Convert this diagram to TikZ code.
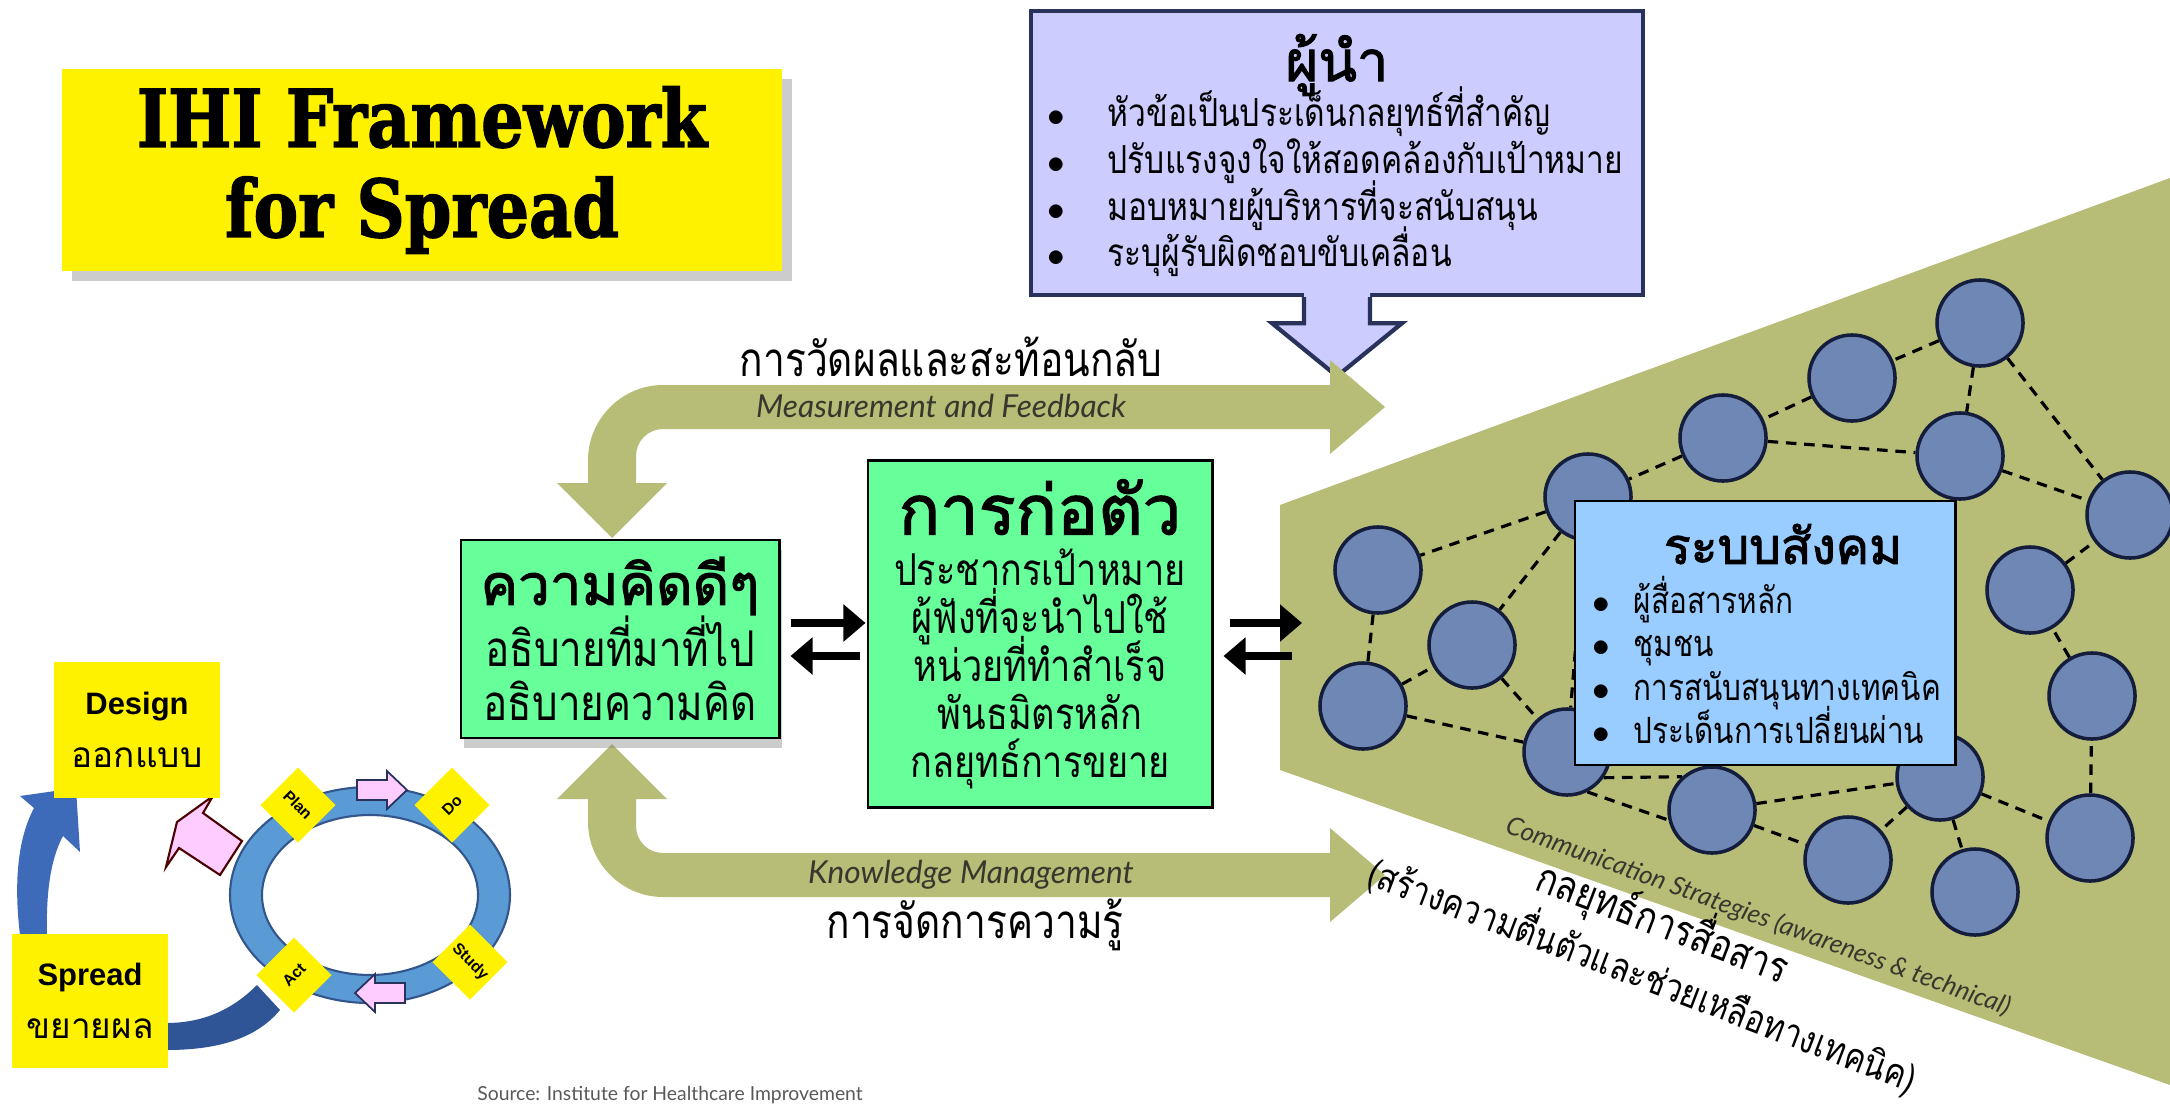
\documentclass[tikz,border=0pt]{standalone}
\usepackage{fontspec}
\usetikzlibrary{positioning,calc,backgrounds,shadows,arrows.meta}

\newfontfamily\thai[Script=Thai,AutoFakeBold=2]{Loma}
\newfontfamily\thain[Script=Thai,FakeStretch=0.82,AutoFakeBold=2]{Loma}
\newfontfamily\slab[FakeBold=2]{DejaVu Serif}
\newfontfamily\arial{Liberation Sans}
\newfontfamily\gill{Lato}
% keep baselines fixed even where Thai marks stick out
\newcommand\fixedlines{\lineskiplimit=-20pt\lineskip=0pt}

\definecolor{olivebg}{RGB}{183,188,118}
\definecolor{netblue}{RGB}{110,135,180}
\definecolor{netline}{RGB}{20,30,60}
\definecolor{skybox}{RGB}{153,204,255}
\definecolor{mint}{RGB}{102,255,153}
\definecolor{lavender}{RGB}{204,204,255}
\definecolor{navy}{RGB}{40,50,90}
\definecolor{pinkarrow}{RGB}{255,204,255}
\definecolor{ringblue}{RGB}{91,155,213}
\definecolor{ringedge}{RGB}{50,85,140}
\definecolor{arcblue}{RGB}{62,106,186}
\definecolor{arcdark}{RGB}{47,85,151}
\definecolor{txtgrey}{RGB}{55,55,45}

\begin{document}
\begin{tikzpicture}[x=0.01cm,y=-0.01cm]
      \tikzstyle{net node}=[circle,draw=netline,line width=1pt,fill=netblue,minimum size=0.86cm,inner sep=0]
      \tikzstyle{net edge}=[line width=0.9pt,dash pattern=on 3pt off 2.2pt]
      \tikzstyle{green box}=[draw,line width=0.8pt,fill=mint,inner sep=0,align=center]
      \tikzstyle{twoway}=[line width=2.3pt,-{Triangle[length=0.22cm,width=0.36cm]}]
      \tikzstyle{pdsa step}=[fill=yellow,minimum size=0.53cm,inner sep=0,font=\arial\bfseries\fontsize{4.5}{5}\selectfont]
      \tikzstyle{band text}=[font=\gill\itshape\fontsize{9}{10}\selectfont,text=txtgrey]
      \tikzstyle{thai label}=[font=\thain\fontsize{13.5}{16}\selectfont]
      \tikzstyle{lead item}=[anchor=base west,inner sep=0,font=\thain\fontsize{11}{13}\selectfont]
      \tikzstyle{social item}=[anchor=base west,inner sep=0,font=\thain\fontsize{10.3}{13}\selectfont]
      \tikzstyle{dot}=[anchor=base,inner sep=0]
      \tikzset{band arrow/.pic={
        \fill[olivebg] (663,385) -- (1330,385) -- (1330,360) -- (1385,407) -- (1330,454) -- (1330,429) -- (663,429)
          .. controls (648,429) and (636,441) .. (636,456) -- (636,483) -- (667,483) -- (612,538) -- (557,483)
          -- (588,483) -- (588,460) .. controls (588,419) and (622,385) .. (663,385) -- cycle;
      },
      pink step/.pic={
        \filldraw[fill=pinkarrow,draw=navy,line width=0.5pt]
          (-25,-10) -- (5,-10) -- (5,-19) -- (25,0) -- (5,19) -- (5,10) -- (-25,10) -- cycle;
      }}

      \useasboundingbox (0,0) rectangle (2170,1109);
      \begin{scope}[on background layer]
        \fill[white] (0,0) rectangle (2170,1109);
        \fill[olivebg] (1280,505) -- (2170,178) -- (2170,1085) -- (1280,770) -- cycle;
      \end{scope}
      \coordinate (fan) at (1280,637);

      % title
      \node[fill=yellow,minimum width=7.2cm,minimum height=2.01cm,
            drop shadow={shadow xshift=1mm,shadow yshift=-1mm,opacity=0.4}] (title) at (422,170) {};
      \node[font=\slab\bfseries\fontsize{22.6}{25.6}\selectfont,align=center,xscale=0.84] (titletext) at (title) {IHI Framework\\for Spread};

      % leaders
      \node[draw=navy,line width=1.2pt,fill=lavender,minimum width=6.12cm,minimum height=2.84cm] (leader) at (1337,153) {};
      \begin{scope}[shift={(leader.south)}]
        \fill[lavender] (-33,-4) -- (-33,26) -- (-65,26) -- (0,79) -- (65,26) -- (33,26) -- (33,-4) -- cycle;
        \draw[navy,line width=1.2pt,line join=miter] (-33,0) -- (-33,26) -- (-65,26) -- (0,79) -- (65,26) -- (33,26) -- (33,0);
      \end{scope}
      \node[font=\thai\bfseries\fontsize{16}{19}\selectfont] (leadtitle) at (1337,65) {ผู้นำ};
      \foreach \txt [count=\i] in {หัวข้อเป็นประเด็นกลยุทธ์ที่สำคัญ, ปรับแรงจูงใจให้สอดคล้องกับเป้าหมาย,
                                   มอบหมายผู้บริหารที่จะสนับสนุน, ระบุผู้รับผิดชอบขับเคลื่อน}{
        \node[lead item] (lead\i) at (1107,{80+46.7*\i}) {\txt};
        \node[dot] (leaddot\i) at ([xshift=-5.1mm]lead\i.base west) {$\bullet$};
      }

      % feedback loops
      \pic at (0,0) {band arrow};
      \pic[yscale=-1] at (0,1282) {band arrow};
      \node[band text] (measure) at (941,406) {Measurement and Feedback};
      \node[band text] (knowledge) at (971,875) {Knowledge Management};
      \node[thai label] (measureth) at (951,357) {การวัดผลและสะท้อนกลับ};
      \node[thai label] (knowledgeth) at (975,925) {การจัดการความรู้};

      % ideas and set-up
      \node[green box,minimum width=3.18cm,minimum height=1.98cm,font=\thain\fontsize{14}{15.4}\selectfont\fixedlines,
            drop shadow={shadow xshift=0.3mm,shadow yshift=-1mm,opacity=0.4}] (idea) at (620,639)
            {{\thai\bfseries\fontsize{16}{19}\selectfont ความคิดดีๆ}\\[2.2pt]อธิบายที่มาที่ไป\\อธิบายความคิด};
      \node[green box,minimum width=3.44cm,minimum height=3.47cm,font=\thain\fontsize{12.5}{13.6}\selectfont\fixedlines] (form) at (1040,634)
            {{\thai\bfseries\fontsize{19.5}{22}\selectfont การก่อตัว}\\[1pt]ประชากรเป้าหมาย\\ผู้ฟังที่จะนำไปใช้\\หน่วยที่ทำสำเร็จ\\พันธมิตรหลัก\\กลยุทธ์การขยาย};

      \draw[twoway] ([shift={(10,-16)}]idea.east) -- ([shift={(-1,-11)}]form.west);
      \draw[twoway] ([shift={(-7,22)}]form.west) -- ([shift={(10,17)}]idea.east);
      \draw[twoway] ([shift={(16,-11)}]form.east) -- ([shift={(22,-14)}]fan);
      \draw[twoway] ([shift={(12,19)}]fan) -- ([shift={(10,22)}]form.east);

      % social network
      \foreach \nm/\px/\py in {a/1980/323, b/1852/378, c/1723/438, d/1960/456, e/1588/497, f/2130/515,
                               g/1378/570, h/1472/645, i/2030/590, j/1363/706, k/1567/752, l/2092/696,
                               m/1940/777, n/1712/810, o/2090/838, p/1848/860, q/1975/892}
        \node[net node] (\nm) at (\px,\py) {};
      \begin{scope}[on background layer]
        \foreach \u/\v in {a/b, a/d, a/f, b/c, c/e, c/d, d/f, e/g, e/h, e/k, g/j, j/h, h/k, j/k,
                           n/m, n/p, m/p, m/q, m/o, o/l, l/i, i/f}
          \draw[net edge] (\u) -- (\v);
        \draw[net edge] (k.-35) -- (n.132);
        \draw[net edge] (k.-63) -- (n.193);
      \end{scope}
      \node[draw,line width=0.8pt,fill=skybox,minimum width=3.8cm,minimum height=2.64cm] (social) at (1765,633) {};
      \node[font=\thai\bfseries\fontsize{14.2}{17}\selectfont] (socialtitle) at (1783,544) {ระบบสังคม};
      \foreach \txt [count=\i] in {ผู้สื่อสารหลัก, ชุมชน, การสนับสนุนทางเทคนิค, ประเด็นการเปลี่ยนผ่าน}{
        \node[social item] (soc\i) at (1633,{570+43.4*\i}) {\txt};
        \node[dot] (socdot\i) at ([xshift=-3.2mm]soc\i.base west) {$\bullet$};
      }
      \node[rotate=-20,font=\gill\itshape\fontsize{7.3}{9}\selectfont,text=txtgrey] (comm) at (1758,917)
            {Communication Strategies (awareness \& technical)};
      \node[rotate=-21,align=center,font=\thain\fontsize{11}{15.6}\selectfont\fixedlines] (commth) at (1654,946)
            {{\fontsize{12}{14}\selectfont กลยุทธ์การสื่อสาร}\\(สร้างความตื่นตัวและช่วยเหลือทางเทคนิค)};

      % PDSA cycle and spread
      \fill[ringblue,draw=ringedge,line width=0.6pt,even odd rule]
            (370,895) ellipse [x radius=140, y radius=108] (370,895) ellipse [x radius=108, y radius=80];
      \fill[arcblue] (20,935) .. controls (14,885) and (17,840) .. (34,808) -- (20,796) -- (76,788) -- (80,852)
            -- (63,836) .. controls (50,860) and (46,895) .. (47,935) -- cycle;
      \fill[arcdark] (257,985) .. controls (230,1012) and (200,1023) .. (166,1023) -- (166,1050)
            .. controls (215,1050) and (255,1040) .. (280,1010) -- cycle;
      \filldraw[fill=pinkarrow,draw=black!70!red,line width=0.6pt]
            (213,796) -- (203,813) -- (242,841) -- (220,875) -- (179,848) -- (166,867) -- (177,822) -- cycle;
      \pic at (382,790) {pink step};
      \pic[rotate=180] at (380,993) {pink step};
      \node[pdsa step,rotate=-45] (plan) at (298,805) {Plan};
      \node[pdsa step,rotate=45] (do) at (452,805) {Do};
      \node[pdsa step,rotate=-45] (study) at (470,962) {Study};
      \node[pdsa step,rotate=45] (act) at (294,975) {Act};
      \node[fill=yellow,minimum width=1.66cm,minimum height=1.35cm,align=center,inner sep=0] (design) at (137,730)
            {{\arial\bfseries\fontsize{8.8}{10}\selectfont Design}\\[3pt]{\thai\fontsize{10}{12}\selectfont ออกแบบ}};
      \node[fill=yellow,minimum width=1.56cm,minimum height=1.33cm,align=center,inner sep=0] (spread) at (90,1001)
            {{\arial\bfseries\fontsize{8.8}{10}\selectfont Spread}\\[3pt]{\thai\fontsize{10}{12}\selectfont ขยายผล}};
      \node[font=\gill\fontsize{5.5}{7}\selectfont,text=black!65] (source) at (670,1095)
            {Source: Institute for Healthcare Improvement};
\end{tikzpicture}
\end{document}
